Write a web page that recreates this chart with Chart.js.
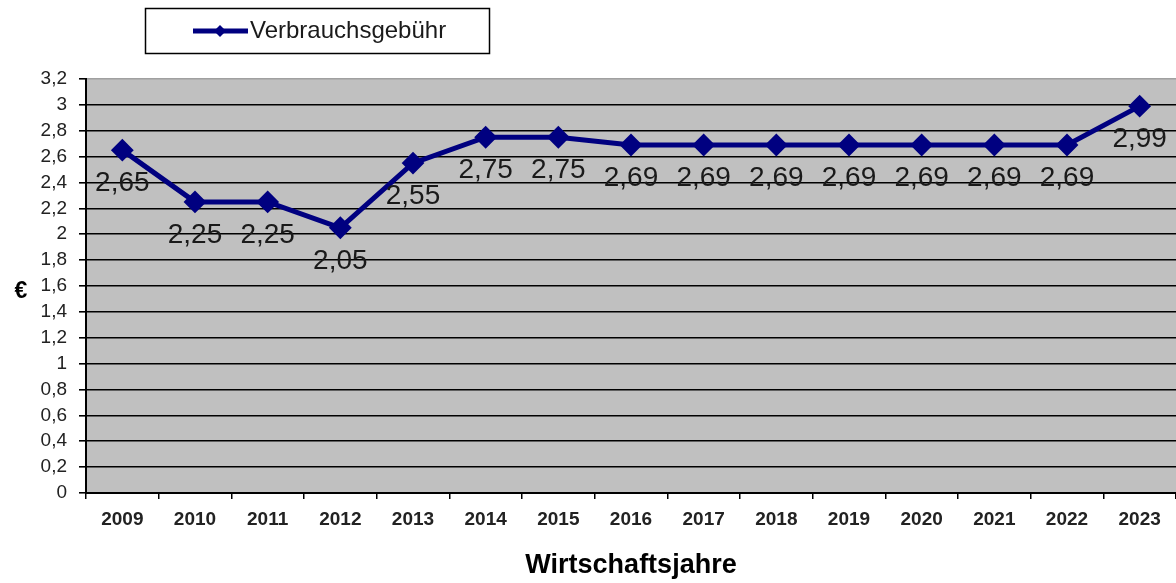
<!DOCTYPE html>
<html>
<head>
<meta charset="utf-8">
<script src="https://cdn.jsdelivr.net/npm/chart.js@4/dist/chart.umd.min.js"></script>
<style>
  html, body { margin: 0; padding: 0; background: #fff; }
  #wrap { width: 1176px; height: 583px; }
</style>
</head>
<body>
<div id="wrap"><canvas id="c" width="1176" height="583"></canvas></div>
<script>
const categories = ['2009','2010','2011','2012','2013','2014','2015','2016','2017','2018','2019','2020','2021','2022','2023'];
const seriesName = 'Verbrauchsgebühr';
const seriesValues = [2.65, 2.25, 2.25, 2.05, 2.55, 2.75, 2.75, 2.69, 2.69, 2.69, 2.69, 2.69, 2.69, 2.69, 2.99];
const yTickMin = 0;
const yTickMax = 3.2;
const yTickStep = 0.2;
const xTitle = 'Wirtschaftsjahre';
const yTitle = '€';

const FONT = '"Liberation Sans", Arial, sans-serif';
const NAVY = '#000080';

const fmt = v => String(Math.round(v * 100) / 100).replace('.', ',');

const bgPlugin = {
  id: 'plotBg',
  beforeDraw(chart) {
    const {ctx, chartArea: a} = chart;
    ctx.save();
    ctx.fillStyle = '#c0c0c0';
    ctx.fillRect(a.left, a.top, a.right - a.left, a.bottom - a.top);
    ctx.restore();
  }
};

const labelPlugin = {
  id: 'valueLabels',
  afterDatasetsDraw(chart) {
    const {ctx} = chart;
    const meta = chart.getDatasetMeta(0);
    ctx.save();
    ctx.font = '28px ' + FONT;
    ctx.fillStyle = '#1a1a1a';
    ctx.textAlign = 'center';
    ctx.textBaseline = 'top';
    meta.data.forEach((pt, i) => {
      ctx.fillText(fmt(seriesValues[i]), pt.x, pt.y + 19);
    });
    ctx.restore();
  }
};

const legendPlugin = {
  id: 'boxLegend',
  afterDraw(chart) {
    const {ctx} = chart;
    ctx.save();
    ctx.fillStyle = '#fff';
    ctx.fillRect(145, 8, 345, 46);
    ctx.strokeStyle = '#000';
    ctx.lineWidth = 1.5;
    ctx.strokeRect(145.5, 8.5, 344, 45);
    ctx.strokeStyle = NAVY;
    ctx.lineWidth = 5;
    ctx.beginPath();
    ctx.moveTo(193, 31);
    ctx.lineTo(248, 31);
    ctx.stroke();
    ctx.fillStyle = NAVY;
    ctx.beginPath();
    ctx.moveTo(220, 25);
    ctx.lineTo(226, 31);
    ctx.lineTo(220, 37);
    ctx.lineTo(214, 31);
    ctx.closePath();
    ctx.fill();
    ctx.fillStyle = '#1a1a1a';
    ctx.font = '24px ' + FONT;
    ctx.textAlign = 'left';
    ctx.textBaseline = 'middle';
    ctx.fillText(seriesName, 250, 31);
    // y axis title
    ctx.font = 'bold 23px ' + FONT;
    ctx.textAlign = 'center';
    ctx.fillStyle = '#000';
    ctx.fillText(yTitle, 21, 292);
    ctx.restore();
  }
};

new Chart(document.getElementById('c'), {
  type: 'line',
  data: {
    labels: categories,
    datasets: [{
      label: seriesName,
      data: seriesValues,
      borderColor: NAVY,
      backgroundColor: NAVY,
      borderWidth: 5,
      pointStyle: 'rectRot',
      pointRadius: 10,
      pointBorderWidth: 2,
      pointBackgroundColor: NAVY,
      pointBorderColor: NAVY,
      tension: 0,
      fill: false,
      clip: false
    }]
  },
  options: {
    responsive: false,
    animation: false,
    layout: { autoPadding: false, padding: { top: 79, left: 0, right: 0, bottom: 0 } },
    plugins: { legend: { display: false }, tooltip: { enabled: false } },
    scales: {
      x: {
        type: 'category',
        offset: true,
        grid: {
          offset: true,
          drawOnChartArea: false,
          drawTicks: true,
          tickLength: 6,
          color: '#000',
          lineWidth: 1.5
        },
        border: { display: true, color: '#000', width: 2 },
        ticks: {
          color: '#222',
          font: { family: FONT, size: 19, weight: 'bold' },
          padding: 9,
          maxRotation: 0,
          autoSkip: false
        },
        title: {
          display: true,
          text: xTitle,
          color: '#000',
          font: { family: FONT, size: 27, weight: 'bold' },
          padding: { top: 0, bottom: 1 }
        },
        afterFit(scale) { scale.height = 90; }
      },
      y: {
        min: yTickMin,
        max: yTickMax,
        grid: {
          color: ctx => (ctx.tick && Math.abs(ctx.tick.value - yTickMax) < 1e-6) ? '#a0a0a0' : '#000',
          tickColor: '#000',
          lineWidth: 1.6,
          tickLength: 7
        },
        border: { display: true, color: '#000', width: 2 },
        ticks: {
          stepSize: yTickStep,
          color: '#222',
          font: { family: FONT, size: 19 },
          padding: 12,
          callback: v => fmt(v)
        },
        afterFit(scale) { scale.width = 86; }
      }
    }
  },
  plugins: [bgPlugin, labelPlugin, legendPlugin]
});
</script>
</body>
</html>
